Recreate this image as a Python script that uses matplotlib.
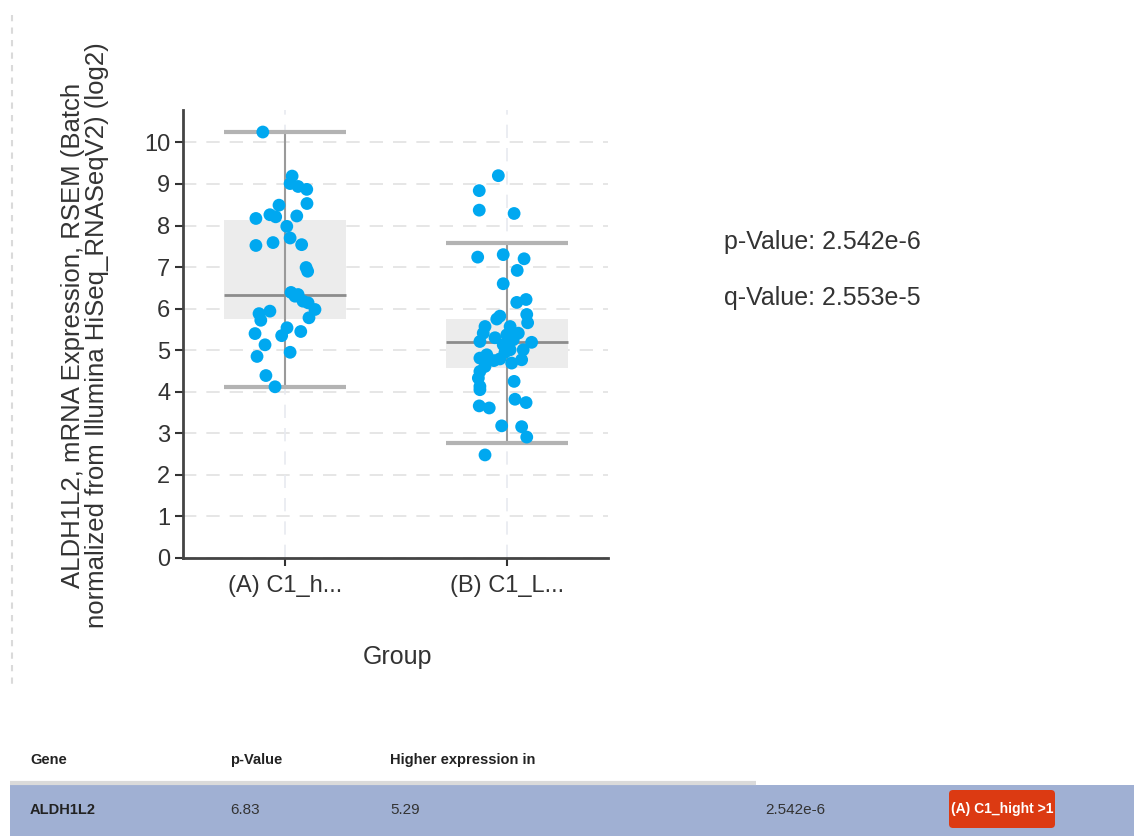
import numpy as np
import matplotlib
matplotlib.use("Agg")
import matplotlib.pyplot as plt
from matplotlib.patches import Rectangle, FancyBboxPatch

plt.rcParams['font.family'] = ['Liberation Sans', 'DejaVu Sans']

# group labels and box stats
groups = ['(A) C1_h...', '(B) C1_L...']
whis_lo = [4.12, 2.77]
q1 = [5.75, 4.58]
median = [6.34, 5.19]
q3 = [8.14, 5.75]
whis_hi = [10.26, 7.59]

# points: values and horizontal jitter (group units)
vals_a = [10.25, 9.19, 9.01, 8.94, 8.87, 8.53, 8.49, 8.17, 8.26, 8.21, 8.23, 7.98,
          7.70, 7.59, 7.52, 7.54, 6.99, 6.90, 6.39, 6.34, 6.30, 6.18, 6.14, 5.98,
          5.78, 5.88, 5.94, 5.72, 5.54, 5.35, 5.45, 5.40, 5.13, 4.85, 4.95, 4.39, 4.12]
jit_a = [-0.100, 0.032, 0.023, 0.059, 0.098, 0.099, -0.027, -0.131, -0.068, -0.042, 0.053, 0.008,
         0.023, -0.054, -0.131, 0.075, 0.095, 0.102, 0.027, 0.059, 0.045, 0.081, 0.104, 0.135,
         0.108, -0.117, -0.068, -0.109, 0.009, -0.015, 0.071, -0.135, -0.090, -0.126, 0.023, -0.086, -0.045]
vals_b = [9.20, 8.84, 8.37, 8.29, 7.24, 7.30, 7.20, 6.92, 6.60, 6.15, 6.22, 5.86,
          5.66, 5.82, 5.75, 5.57, 5.57, 5.41, 5.41, 5.37, 5.25, 5.19, 5.21, 5.13,
          5.01, 5.01, 4.89, 4.81, 4.79, 4.77, 4.69, 4.61, 4.49, 4.33, 4.13, 4.25,
          4.05, 3.82, 3.74, 3.66, 3.61, 3.18, 3.16, 2.91, 2.48, 5.30, 4.95, 4.75]
jit_b = [-0.039, -0.125, -0.125, 0.032, -0.132, -0.017, 0.077, 0.046, -0.017, 0.044, 0.086, 0.089,
         0.093, -0.032, -0.046, -0.099, 0.014, -0.107, 0.051, -0.001, 0.028, 0.111, -0.122, -0.017,
         0.073, 0.014, -0.091, -0.122, -0.032, 0.066, 0.021, -0.099, -0.122, -0.129, -0.122, 0.032,
         -0.122, 0.036, 0.086, -0.125, -0.080, -0.024, 0.066, 0.089, -0.099, -0.054, -0.009, -0.059]

p_value = '2.542e-6'
q_value = '2.553e-5'

# table below the chart
table_header = ['Gene', 'p-Value', 'Higher expression in']
row_gene = 'ALDH1L2'
row_vals = ['6.83', '5.29', '2.542e-6']
badge_text = '(A) C1_hight >1'

W, H = 1134, 836
fig = plt.figure(figsize=(W / 100, H / 100), dpi=100)

ax = fig.add_axes([183 / W, 1 - 558 / H, 425 / W, 448 / H])
ax.set_xlim(-0.4595, 1.455)
ax.set_ylim(0, 10.78)

# grid
for y in range(0, 11):
    ax.axhline(y, color='#e2e2e2', lw=1.2, ls=(0, (8, 6)), zorder=0)
for x in range(len(groups)):
    ax.axvline(x, color='#e8eaf0', lw=1.2, ls=(0, (8, 6)), zorder=0)

bw = 0.55
for i in range(len(groups)):
    ax.bar(i, q3[i] - q1[i], bottom=q1[i], width=bw, color='#ececec', zorder=1)
    ax.vlines(i, whis_lo[i], whis_hi[i], color='#9a9a9a', lw=1.5, zorder=2)
    ax.hlines([whis_lo[i], whis_hi[i]], i - bw / 2, i + bw / 2, color='#b3b3b3', lw=3, zorder=2)
    ax.hlines(median[i], i - bw / 2, i + bw / 2, color='#8c8c8c', lw=2, zorder=2)

ax.scatter(np.array(jit_a), vals_a, s=85, color='#00a8f0', edgecolors='none', zorder=3)
ax.scatter(1 + np.array(jit_b), vals_b, s=85, color='#00a8f0', edgecolors='none', zorder=3)

ax.set_xticks(range(len(groups)))
ax.set_xticklabels(groups, fontsize=17, color='#333333')
ax.set_yticks(range(0, 11))
ax.tick_params(axis='y', labelsize=17, colors='#333333', length=6, width=1.5, pad=3)
ax.tick_params(axis='x', length=6, width=1.5, colors='#333333', pad=6)
for t in ax.get_xticklabels():
    t.set_color('#333333')
for s in ['top', 'right']:
    ax.spines[s].set_visible(False)
for s in ['left', 'bottom']:
    ax.spines[s].set_color('#444444')
    ax.spines[s].set_linewidth(2)

fig.text(85 / W, 1 - 335 / H,
         'ALDH1L2, mRNA Expression, RSEM (Batch\nnormalized from Illumina HiSeq_RNASeqV2) (log2)',
         rotation=90, ha='center', va='center', fontsize=18.5, color='#333333',
         multialignment='center', linespacing=1.0)
fig.text(397 / W, 1 - 657 / H, 'Group', ha='center', va='center', fontsize=18, color='#333333')
fig.text(724 / W, 1 - 242 / H, 'p-Value: ' + p_value, ha='left', va='center', fontsize=18, color='#333333')
fig.text(724 / W, 1 - 298 / H, 'q-Value: ' + q_value, ha='left', va='center', fontsize=18, color='#333333')

# overlay in pixel coords for the page decorations / table
ov = fig.add_axes([0, 0, 1, 1], zorder=-1)
ov.set_xlim(0, W)
ov.set_ylim(H, 0)
ov.axis('off')
ov.plot([12, 12], [15, 688], color='#dadada', lw=1.5, ls=(0, (3, 3)))

ov.add_patch(Rectangle((10, 785), W - 10, H - 785, color='#a0b0d3', lw=0))
ov.plot([10, 756], [783, 783], color='#dadada', lw=3, solid_capstyle='butt')
hx = [30, 230, 390]
for x, t in zip(hx, table_header):
    ov.text(x, 760, t, ha='left', va='center', fontsize=10.5, fontweight='bold', color='#222222')
ov.text(30, 810, row_gene, ha='left', va='center', fontsize=10.5, fontweight='bold', color='#222222')
for x, t in zip([230, 390, 765], row_vals):
    ov.text(x, 810, t, ha='left', va='center', fontsize=11, color='#333333')
ov.add_patch(FancyBboxPatch((949, 790), 106, 38, boxstyle='round,pad=0,rounding_size=4',
                            color='#dc3a12', lw=0))
ov.text(1002, 809, badge_text, ha='center', va='center', fontsize=10, fontweight='bold',
        color='white')

fig.savefig('out.png', dpi=100)
